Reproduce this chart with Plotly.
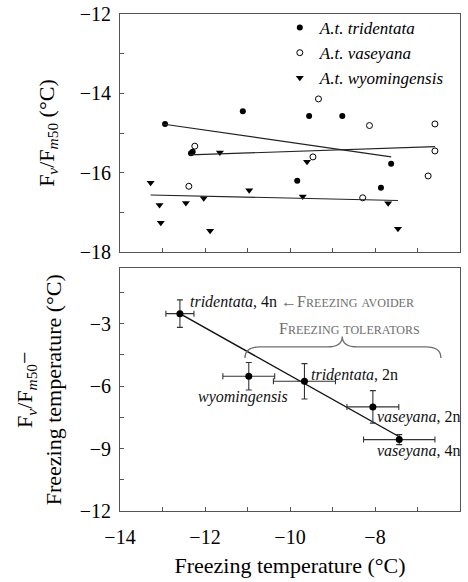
import plotly.graph_objects as go

# ---------------- data: top panel (Fv/Fm50 vs freezing temperature) ----------------
tri_x = [-12.94, -12.33, -12.29, -11.11, -9.83, -9.55, -8.77, -7.86, -7.62]
tri_y = [-14.77, -15.51, -15.47, -14.45, -16.20, -14.57, -14.57, -16.38, -15.77]

vas_x = [-12.24, -12.38, -9.33, -9.46, -8.13, -8.29, -6.75, -6.59, -6.59]
vas_y = [-15.33, -16.34, -14.14, -15.60, -14.81, -16.63, -16.08, -14.77, -15.45]

wyo_x = [-13.28, -13.07, -13.04, -12.45, -12.03, -11.88, -11.65, -10.96, -9.70, -9.60, -7.69, -7.46]
wyo_y = [-16.25, -16.81, -17.26, -16.76, -16.64, -17.46, -15.49, -16.44, -16.60, -15.72, -16.77, -17.41]

# regression line end points
tri_fit_x = [-13.00, -7.62]
tri_fit_y = [-14.77, -15.60]
vas_fit_x = [-12.36, -6.59]
vas_fit_y = [-15.55, -15.34]
wyo_fit_x = [-13.28, -7.46]
wyo_fit_y = [-16.56, -16.70]

# ---------------- data: bottom panel (Fv/Fm50 - freezing temperature) ----------------
grp_labels = ["<i>tridentata</i>, 4n", "<i>wyomingensis</i>", "<i>tridentata</i>, 2n",
              "<i>vaseyana</i>, 2n", "<i>vaseyana</i>, 4n"]
grp_x = [-12.59, -10.97, -9.66, -8.05, -7.43]
grp_y = [-2.52, -5.53, -5.77, -7.00, -8.57]
grp_xerr = [0.33, 0.61, 0.73, 0.61, 0.84]
grp_yerr = [0.66, 0.66, 0.85, 0.78, 0.24]

grp_fit_x = [-12.59, -7.45]
grp_fit_y = [-2.52, -8.41]

# label anchor positions (data units) and anchors
lab_x = [-12.40, -10.00, -9.56, -8.00, -8.00]
lab_y = [-1.96, -6.53, -5.44, -7.49, -9.12]
lab_anchor = ["left", "right", "left", "left", "left"]

# brace spanning the freezing tolerators
brace_x = [-11.06, -8.77, -6.45]     # left end, tip, right end
brace_y = [-4.65, -4.12, -3.62]      # ends, shoulder, tip
tol_label_xy = [-8.59, -3.24]

x_range = [-14, -6]
top_y_range = [-18, -12]
bot_y_range = [-12, -0.35]

FONT = "Liberation Serif"
AX = "#555555"
GRAY = "#6e6e6e"


def small_caps(text, small=12):
    out = ""
    for ch in text:
        if ch.islower():
            out += "<span style='font-size:%dpx'>%s</span>" % (small, ch.upper())
        else:
            out += ch
    return out


fig = go.Figure()

# top panel points
fig.add_trace(go.Scatter(x=tri_x, y=tri_y, mode="markers", xaxis="x2", yaxis="y2",
                         name="<i>A.t. tridentata</i>",
                         marker=dict(symbol="circle", size=6, color="black")))
fig.add_trace(go.Scatter(x=vas_x, y=vas_y, mode="markers", xaxis="x2", yaxis="y2",
                         name="<i>A.t. vaseyana</i>",
                         marker=dict(symbol="circle-open", size=6, color="black",
                                     line=dict(width=1))))
fig.add_trace(go.Scatter(x=wyo_x, y=wyo_y, mode="markers", xaxis="x2", yaxis="y2",
                         name="<i>A.t. wyomingensis</i>",
                         marker=dict(symbol="triangle-down", size=7, color="black")))
for fx, fy in [(tri_fit_x, tri_fit_y), (vas_fit_x, vas_fit_y), (wyo_fit_x, wyo_fit_y)]:
    fig.add_trace(go.Scatter(x=fx, y=fy, mode="lines", xaxis="x2", yaxis="y2",
                             showlegend=False, line=dict(color="#222", width=1.1)))

# bottom panel
fig.add_trace(go.Scatter(x=grp_fit_x, y=grp_fit_y, mode="lines", xaxis="x", yaxis="y",
                         showlegend=False, line=dict(color="#111", width=1.4)))
fig.add_trace(go.Scatter(x=grp_x, y=grp_y, mode="markers", xaxis="x", yaxis="y",
                         showlegend=False,
                         marker=dict(symbol="circle", size=7, color="black"),
                         error_x=dict(type="data", array=grp_xerr, color="#333",
                                      thickness=1.1, width=3),
                         error_y=dict(type="data", array=grp_yerr, color="#333",
                                      thickness=1.1, width=3)))

annotations = []
for i, (t, x, y, a) in enumerate(zip(grp_labels, lab_x, lab_y, lab_anchor)):
    if i == 0:
        t = t + " <span style='color:%s'>←%s</span>" % (GRAY, small_caps("Freezing avoider"))
    annotations.append(dict(x=x, y=y, xref="x", yref="y", text=t, showarrow=False,
                            xanchor=a, yanchor="middle",
                            font=dict(family=FONT, size=16, color="#111")))
annotations.append(dict(x=tol_label_xy[0], y=tol_label_xy[1], xref="x", yref="y",
                        text=small_caps("Freezing tolerators"), showarrow=False,
                        xanchor="center", yanchor="middle",
                        font=dict(family=FONT, size=16, color=GRAY)))

# brace path
x0, xc, x1 = brace_x
ye, yh, yt = brace_y
d = 0.35
path = (f"M {x0},{ye} Q {x0},{yh} {x0 + d},{yh} L {xc - d},{yh} "
        f"Q {xc},{yh} {xc},{yt} Q {xc},{yh} {xc + d},{yh} "
        f"L {x1 - d},{yh} Q {x1},{yh} {x1},{ye}")
shapes = [dict(type="path", path=path, xref="x", yref="y",
               line=dict(color=GRAY, width=1.3))]

tick_font = dict(family=FONT, size=20, color="black")
title_font = dict(family=FONT, size=22, color="black")
common = dict(showline=True, linecolor=AX, linewidth=1, mirror=True, ticks="inside",
              ticklen=4, tickcolor=AX, showgrid=False, zeroline=False,
              tickfont=tick_font, automargin=False)

fig.update_layout(
    width=468, height=582, autosize=False,
    margin=dict(l=120, r=8, t=14, b=71),
    paper_bgcolor="white", plot_bgcolor="white",
    font=dict(family=FONT, color="black"),
    showlegend=True,
    legend=dict(x=0.47, y=1.008, xanchor="left", yanchor="top",
                bgcolor="rgba(0,0,0,0)", font=dict(family=FONT, size=17),
                itemwidth=30, tracegroupgap=0),
    xaxis=dict(domain=[0, 1], anchor="y", range=x_range, dtick=2, tick0=-14,
               minor=dict(dtick=1, ticks="inside", ticklen=4, tickcolor=AX),
               title=dict(text="Freezing temperature (°C)", font=title_font, standoff=10),
               ticklabelstandoff=8, **common),
    yaxis=dict(domain=[0, 0.488], anchor="x", range=bot_y_range, dtick=3, tick0=-12,
               minor=dict(dtick=1.5, ticks="inside", ticklen=4, tickcolor=AX),
               title=dict(text="F<sub><i>v</i></sub>/F<sub><i>m</i>50</sub>−<br>Freezing temperature (°C)",
                          font=title_font, standoff=12),
               ticklabelstandoff=4, **common),
    xaxis2=dict(domain=[0, 1], anchor="y2", range=x_range, dtick=1, tick0=-14,
                showticklabels=False, **common),
    yaxis2=dict(domain=[0.5208, 1], anchor="x2", range=top_y_range, dtick=2, tick0=-12,
                minor=dict(dtick=1, ticks="inside", ticklen=4, tickcolor=AX),
                title=dict(text="F<sub><i>v</i></sub>/F<sub><i>m</i>50</sub> (°C)",
                           font=title_font, standoff=19),
                ticklabelstandoff=4, **common),
    annotations=annotations,
    shapes=shapes,
)

fig.write_html("out.html", config={"displayModeBar": False},
               post_script="document.body.style.margin='0';")
